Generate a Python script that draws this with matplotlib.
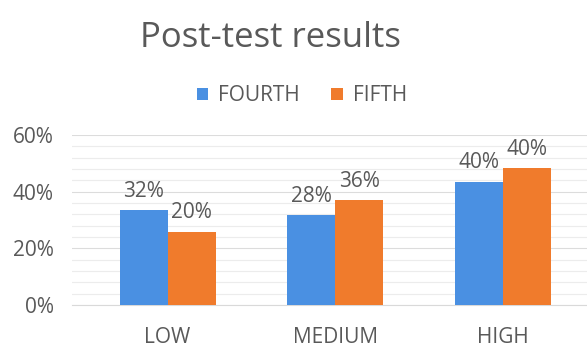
import numpy as np
import matplotlib.pyplot as plt
from matplotlib.ticker import MultipleLocator, FuncFormatter

# Categories and series (bar heights, in %)
categories = ['LOW', 'MEDIUM', 'HIGH']
fourth = [33.5, 31.8, 43.5]
fifth = [25.9, 37.1, 48.2]

# Data label texts as printed on the chart
fourth_labels = ['32%', '28%', '40%']
fifth_labels = ['20%', '36%', '40%']

blue = '#4a90e2'
orange = '#f07b2c'
text_col = '#595959'

plt.rcParams['font.family'] = ['Open Sans', 'DejaVu Sans']

fig = plt.figure(figsize=(5.87, 3.47), dpi=100)
ax = fig.add_axes([0.1227, 0.121, 0.877, 0.490])

x = np.arange(len(categories))
w = 0.286
b1 = ax.bar(x - w / 2, fourth, w, color=blue, zorder=3)
b2 = ax.bar(x + w / 2, fifth, w, color=orange, zorder=3)

for bars, labels in ((b1, fourth_labels), (b2, fifth_labels)):
    for rect, lab in zip(bars, labels):
        ax.annotate(lab, (rect.get_x() + rect.get_width() / 2, rect.get_height()),
                    xytext=(0, 6), textcoords='offset points',
                    ha='center', va='bottom', fontsize=15, color=text_col)

ax.set_xlim(-0.57, 2.5)
ax.set_ylim(0, 60)
ax.yaxis.set_major_locator(MultipleLocator(20))
ax.yaxis.set_minor_locator(MultipleLocator(4))
ax.yaxis.set_major_formatter(FuncFormatter(lambda v, p: f'{v:.0f}%'))
ax.grid(axis='y', which='major', color='#dcdcdc', lw=0.8, zorder=0)
ax.grid(axis='y', which='minor', color='#ececec', lw=0.8, zorder=0)

ax.set_xticks(x)
ax.set_xticklabels(categories)
ax.tick_params(axis='x', length=0, pad=16, labelsize=15, labelcolor=text_col)
ax.tick_params(axis='y', which='both', length=0, pad=13, labelsize=15, labelcolor=text_col)

for s in ('top', 'right', 'left'):
    ax.spines[s].set_visible(False)
ax.spines['bottom'].set_color('#d9d9d9')

fig.text(0.46, 0.89, 'Post-test results', ha='center', va='center',
         fontsize=25, color=text_col)

fig.legend([b1, b2], ['FOURTH', 'FIFTH'], loc='center', bbox_to_anchor=(0.514, 0.724),
           ncol=2, frameon=False, fontsize=15, labelcolor=text_col,
           handlelength=0.55, handleheight=0.55, handletextpad=0.48, columnspacing=1.5)

fig.savefig('out.png', dpi=100)
